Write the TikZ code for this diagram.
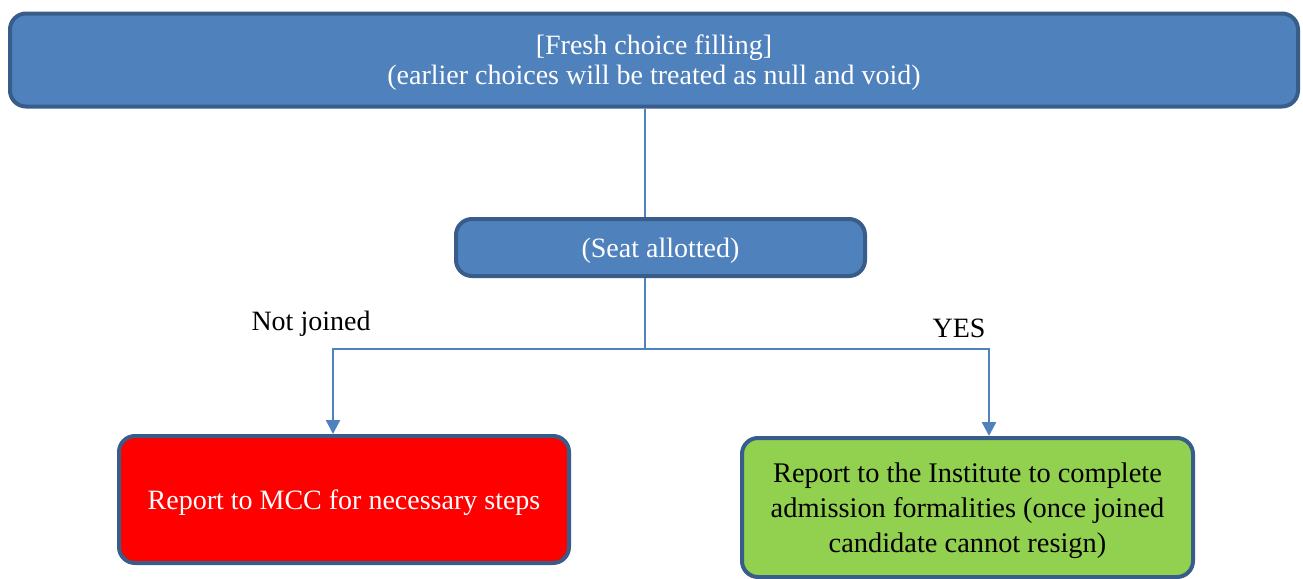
\documentclass[tikz,border=0pt]{standalone}
\usepackage{fontspec}
\setmainfont{Liberation Serif}
\usetikzlibrary{arrows.meta}
\definecolor{boxblue}{HTML}{4F81BD}
\definecolor{edgeblue}{HTML}{385D8A}
\definecolor{okgreen}{HTML}{92D050}
\begin{document}
\begin{tikzpicture}[x=0.5pt,y=-0.5pt,
    box/.style={draw=edgeblue, line width=2pt, rounded corners=8pt, text depth=0pt,
                align=center, inner sep=0pt, font=\fontsize{14}{15}\selectfont},
    bluebox/.style={box, fill=boxblue, text=white},
    link/.style={draw=boxblue, line width=1.2pt},
    tip/.style={-{Triangle[width=7pt,length=7pt]}},
    lbl/.style={font=\fontsize{14}{16}\selectfont, inner sep=0pt}]
\useasboundingbox (0,0) rectangle (1303,579); % page size
% boxes
\node[bluebox, minimum width=644pt, minimum height=46.5pt] (fresh) at (654,60)
    {[Fresh choice filling]\\(earlier choices will be treated as null and void)};
\node[bluebox, minimum width=204.5pt, minimum height=28.5pt] (seat) at (660.5,247.5)
    {(Seat allotted)};
\node[box, fill=red, text=white, minimum width=225pt, minimum height=63.5pt] (mcc) at (344,499.5)
    {Report to MCC for necessary steps};
\node[box, fill=okgreen, text=black, minimum width=225.5pt, minimum height=69.5pt,
      font=\fontsize{14.2}{17.5}\selectfont] (inst) at (967.5,507.5)
    {Report to the Institute to complete\\admission formalities (once joined\\candidate cannot resign)};
% labels
\node[lbl] (notj) at (311,324) {Not joined};
\node[lbl] (yes) at (959,328) {YES};
% connectors
\coordinate (split) at (645,349);
\draw[link] (fresh.south -| split) -- (seat.north -| split);
\draw[link] (seat.south -| split) -- (split);
\draw[link, tip] (split) -| (mcc.north -| 333,0);
\draw[link, tip] (split) -| (inst.north -| 989,0);
\end{tikzpicture}
\end{document}
